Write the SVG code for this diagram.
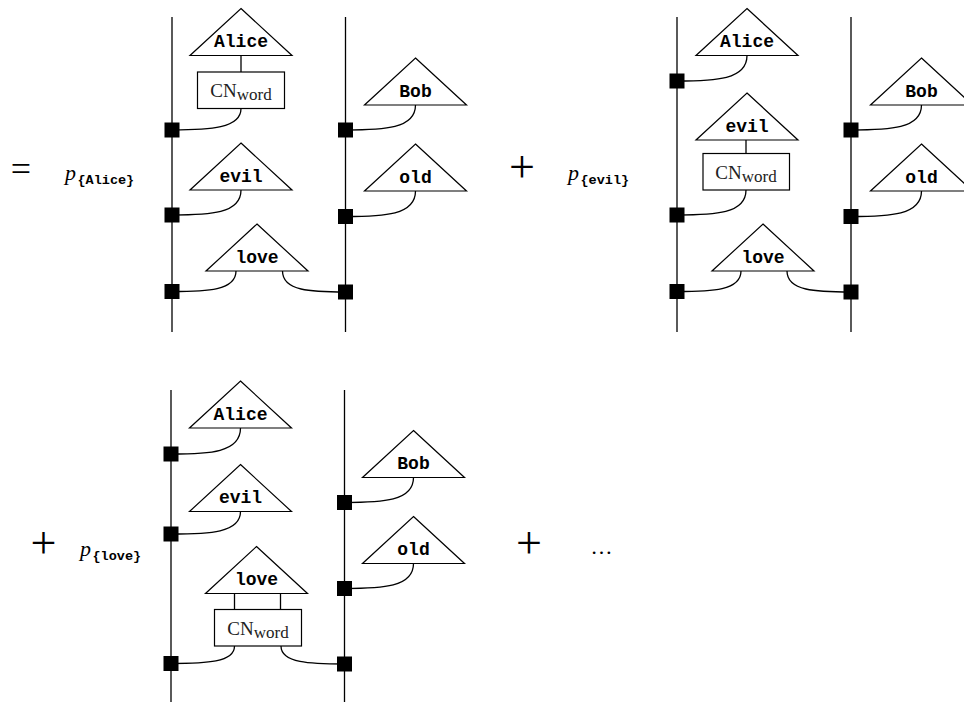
<svg xmlns="http://www.w3.org/2000/svg" width="964" height="702" viewBox="0 0 964 702">
<style>
.wire{stroke:#000;stroke-width:1.3;fill:none}
.tri{fill:#fff;stroke:#000;stroke-width:1.2}
.box{fill:#fff;stroke:#000;stroke-width:1.2}
.conn{fill:none;stroke:#000;stroke-width:1.3}
.dot{fill:#000}
.w{font-family:"Liberation Mono",monospace;font-size:18px;font-weight:bold;text-anchor:middle;fill:#000}
.cn{font-family:"Liberation Serif",serif;font-size:19px;text-anchor:middle;fill:#222}
.sub{font-size:17px}
.op{font-family:"Liberation Serif",serif;fill:#000}
.p{font-family:"Liberation Serif",serif;font-style:italic;font-size:22px;fill:#000}
.ps{font-family:"Liberation Mono",monospace;font-style:normal;font-weight:bold;font-size:13.5px}
</style>
<rect width="964" height="702" fill="#fff"/>

<g id="labels">
  <text class="op" x="21" y="181" font-size="36" text-anchor="middle">=</text>
  <text class="p" x="65" y="180">p<tspan class="ps" dx="1.5" dy="3.5">{Alice}</tspan></text>
  <text class="op" x="522" y="181.5" font-size="46" text-anchor="middle">+</text>
  <text class="p" x="568" y="180">p<tspan class="ps" dx="1.5" dy="3.5">{evil}</tspan></text>
  <text class="op" x="43.5" y="558" font-size="46" text-anchor="middle">+</text>
  <text class="p" x="80" y="556">p<tspan class="ps" dx="1.5" dy="3.5">{love}</tspan></text>
  <text class="op" x="529" y="558" font-size="46" text-anchor="middle">+</text>
  <text class="op" x="601.5" y="554" font-size="22" text-anchor="middle">…</text>
</g>

<g id="connectors">
  <!-- diagram A -->
  <line class="wire" x1="172" y1="17" x2="172" y2="332"/>
  <line class="wire" x1="345.5" y1="17" x2="345.5" y2="332"/>
  <line class="conn" x1="241" y1="55.5" x2="241" y2="72"/>
  <path class="conn" d="M241,108.5 C241,128.4 210,130 172,130"/>
  <path class="conn" d="M415.5,105 C415.5,128.75 384,130 345.5,130"/>
  <path class="conn" d="M241,190 C241,213.75 210,215 172,215"/>
  <path class="conn" d="M415.5,191 C415.5,215.2 384,216.5 345.5,216.5"/>
  <path class="conn" d="M236,271 C236,290.5 207,291.5 172,291.5"/>
  <path class="conn" d="M282.5,271 C282.5,291 311,292 345.5,292"/>
  <!-- diagram B -->
  <line class="wire" x1="677" y1="17" x2="677" y2="332"/>
  <line class="wire" x1="851" y1="17" x2="851" y2="332"/>
  <line class="conn" x1="746" y1="140" x2="746" y2="153.5"/>
  <path class="conn" d="M747,55.5 C747,79.7 715.5,81 677,81"/>
  <path class="conn" d="M921.5,105 C921.5,128.75 889.8,130 851,130"/>
  <path class="conn" d="M746,190 C746,213.75 715,215 677,215"/>
  <path class="conn" d="M921.5,191 C921.5,215.2 889.8,216.5 851,216.5"/>
  <path class="conn" d="M741,271 C741,290.5 712,291.5 677,291.5"/>
  <path class="conn" d="M787,271 C787,291 816,292 851,292"/>
  <!-- diagram C -->
  <line class="wire" x1="171" y1="390" x2="171" y2="702"/>
  <line class="wire" x1="344.5" y1="390" x2="344.5" y2="702"/>
  <line class="conn" x1="234.5" y1="593.5" x2="234.5" y2="609.5"/>
  <line class="conn" x1="280.5" y1="593.5" x2="280.5" y2="609.5"/>
  <path class="conn" d="M240.5,428 C240.5,452.7 209.2,454 171,454"/>
  <path class="conn" d="M240.5,511.5 C240.5,532.9 209.2,534 171,534"/>
  <path class="conn" d="M234.5,646 C234.5,662.6 206,663.5 171,663.5"/>
  <path class="conn" d="M281,646 C281,663.1 310.4,664 344.5,664"/>
  <path class="conn" d="M413.5,477.5 C413.5,501.25 382.4,502.5 344.5,502.5"/>
  <path class="conn" d="M413.5,563.5 C413.5,587.25 382.4,588.5 344.5,588.5"/>
</g>

<!-- Diagram A nodes -->
<g id="a-alice"><polygon class="tri" points="241,8.5 292,55.5 190,55.5"/><text class="w" x="241" y="47">Alice</text></g>
<g id="a-cn"><rect class="box" x="197.5" y="72" width="87" height="36.5"/><text class="cn" x="241" y="97">CN<tspan class="sub" dy="3">word</tspan></text></g>
<g id="a-evil"><polygon class="tri" points="241,143 292,190 190,190"/><text class="w" x="241" y="181.5">evil</text></g>
<g id="a-love"><polygon class="tri" points="257,224 308,271 206,271"/><text class="w" x="257" y="262.5">love</text></g>
<g id="a-bob"><polygon class="tri" points="415.5,58 466.5,105 364.5,105"/><text class="w" x="415.5" y="96.5">Bob</text></g>
<g id="a-old"><polygon class="tri" points="415.5,144 466.5,191 364.5,191"/><text class="w" x="415.5" y="182.5">old</text></g>
<g id="a-spiders">
  <rect class="dot" x="164.5" y="122.5" width="15" height="15"/>
  <rect class="dot" x="164.5" y="207.5" width="15" height="15"/>
  <rect class="dot" x="164.5" y="284" width="15" height="15"/>
  <rect class="dot" x="338" y="122.5" width="15" height="15"/>
  <rect class="dot" x="338" y="209" width="15" height="15"/>
  <rect class="dot" x="338" y="284.5" width="15" height="15"/>
</g>

<!-- Diagram B nodes -->
<g id="b-alice"><polygon class="tri" points="747,8.5 798,55.5 696,55.5"/><text class="w" x="747" y="47">Alice</text></g>
<g id="b-evil"><polygon class="tri" points="747,93 798,140 696,140"/><text class="w" x="747" y="131.5">evil</text></g>
<g id="b-cn"><rect class="box" x="703" y="153.5" width="86.5" height="36.5"/><text class="cn" x="746" y="178.5">CN<tspan class="sub" dy="3">word</tspan></text></g>
<g id="b-love"><polygon class="tri" points="763,224 814,271 712,271"/><text class="w" x="763" y="262.5">love</text></g>
<g id="b-bob"><polygon class="tri" points="921.5,58 972.5,105 870.5,105"/><text class="w" x="921.5" y="96.5">Bob</text></g>
<g id="b-old"><polygon class="tri" points="921.5,144 972.5,191 870.5,191"/><text class="w" x="921.5" y="182.5">old</text></g>
<g id="b-spiders">
  <rect class="dot" x="669.5" y="73.5" width="15" height="15"/>
  <rect class="dot" x="669.5" y="207.5" width="15" height="15"/>
  <rect class="dot" x="669.5" y="284" width="15" height="15"/>
  <rect class="dot" x="843.5" y="122.5" width="15" height="15"/>
  <rect class="dot" x="843.5" y="209" width="15" height="15"/>
  <rect class="dot" x="843.5" y="284.5" width="15" height="15"/>
</g>

<!-- Diagram C nodes -->
<g id="c-alice"><polygon class="tri" points="240.5,381 291.5,428 189.5,428"/><text class="w" x="240.5" y="419.5">Alice</text></g>
<g id="c-evil"><polygon class="tri" points="240.5,464.5 291.5,511.5 189.5,511.5"/><text class="w" x="240.5" y="503">evil</text></g>
<g id="c-love"><polygon class="tri" points="256.5,546.5 307.5,593.5 205.5,593.5"/><text class="w" x="256.5" y="585">love</text></g>
<g id="c-cn"><rect class="box" x="214.5" y="609.5" width="87" height="36.5"/><text class="cn" x="258" y="634.5">CN<tspan class="sub" dy="3">word</tspan></text></g>
<g id="c-bob"><polygon class="tri" points="413.5,430.5 464.5,477.5 362.5,477.5"/><text class="w" x="413.5" y="469">Bob</text></g>
<g id="c-old"><polygon class="tri" points="413.5,516.5 464.5,563.5 362.5,563.5"/><text class="w" x="413.5" y="555">old</text></g>
<g id="c-spiders">
  <rect class="dot" x="163.5" y="446.5" width="15" height="15"/>
  <rect class="dot" x="163.5" y="526.5" width="15" height="15"/>
  <rect class="dot" x="163.5" y="656" width="15" height="15"/>
  <rect class="dot" x="337" y="495" width="15" height="15"/>
  <rect class="dot" x="337" y="581" width="15" height="15"/>
  <rect class="dot" x="337" y="656.5" width="15" height="15"/>
</g>
</svg>
